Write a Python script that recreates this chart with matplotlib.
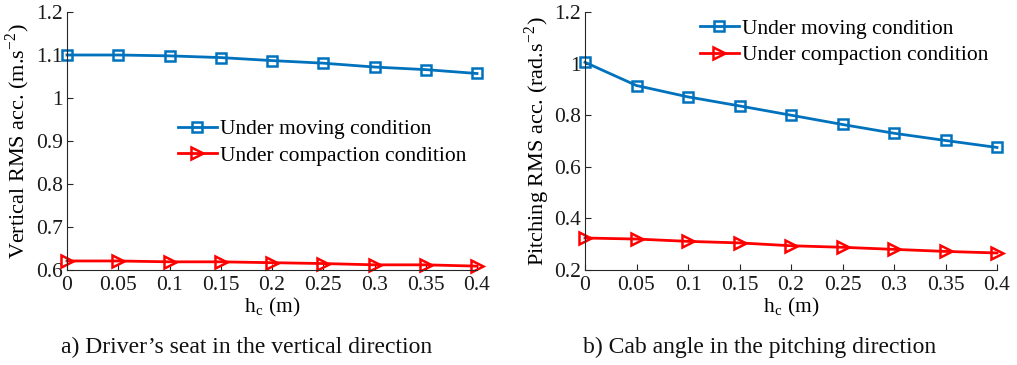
import matplotlib
matplotlib.use("Agg")
import matplotlib.pyplot as plt
import numpy as np

hc = [0, 0.05, 0.1, 0.15, 0.2, 0.25, 0.3, 0.35, 0.4]
xtick_labels = ["0", "0.05", "0.1", "0.15", "0.2", "0.25", "0.3", "0.35", "0.4"]

vert_moving = [1.100, 1.100, 1.098, 1.094, 1.087, 1.081, 1.072, 1.066, 1.057]
vert_compaction = [0.621, 0.621, 0.619, 0.619, 0.617, 0.615, 0.612, 0.612, 0.609]

pitch_moving = [1.005, 0.915, 0.871, 0.836, 0.800, 0.764, 0.730, 0.702, 0.675]
pitch_compaction = [0.324, 0.320, 0.311, 0.305, 0.294, 0.288, 0.280, 0.272, 0.266]

left_yticks = [0.6, 0.7, 0.8, 0.9, 1.0, 1.1, 1.2]
left_ytick_labels = ["0.6", "0.7", "0.8", "0.9", "1", "1.1", "1.2"]
right_yticks = [0.2, 0.4, 0.6, 0.8, 1.0, 1.2]
right_ytick_labels = ["0.2", "0.4", "0.6", "0.8", "1", "1.2"]

plt.rcParams['font.family'] = ['Liberation Serif', 'DejaVu Serif']
plt.rcParams['mathtext.fontset'] = 'stix'

W, H = 1017, 365
fig = plt.figure(figsize=(W / 100, H / 100), dpi=100)

blue = '#0072BD'
red = '#FF0000'
fs = 15.5


def make_ax(x0, x1, y0, y1):
    return fig.add_axes([x0 / W, 1 - y1 / H, (x1 - x0) / W, (y1 - y0) / H])


def style(ax, yticks, ylabels, ylim, ylabel, ylabel_x):
    ax.set_xlim(0, 0.4)
    ax.set_ylim(*ylim)
    ax.set_xticks(hc)
    ax.set_xticklabels(xtick_labels, fontsize=fs)
    ax.set_yticks(yticks)
    ax.set_yticklabels(ylabels, fontsize=fs)
    for s in ['top', 'right']:
        ax.spines[s].set_visible(False)
    for s in ['left', 'bottom']:
        ax.spines[s].set_color('#262626')
        ax.spines[s].set_linewidth(0.8)
    ax.tick_params(direction='in', length=4, width=0.8, colors='#262626',
                   labelcolor='#1a1a1a', pad=2)
    ax.tick_params(axis='x', pad=4)
    ax.tick_params(axis='y', pad=3)
    ax.set_xlabel(r'h$_{\mathregular{c}}$ (m)', fontsize=fs, labelpad=1)
    ax.set_ylabel(ylabel, fontsize=16)
    ax.yaxis.label.set_va('center')
    ax.yaxis.set_label_coords(ylabel_x, 0.5)


def legend(ax, x, y):
    ax.legend(loc='center left', bbox_to_anchor=(x, y), frameon=False,
              fontsize=fs, handlelength=1.8, handletextpad=0.15,
              labelspacing=0.3, borderaxespad=0, borderpad=0)


# Left panel
ax1 = make_ax(67, 477, 12, 270)
ax1.plot(hc, vert_moving, color=blue, lw=2, marker='s', ms=6.5, mfc='none',
         mec=blue, mew=1.8, label='Under moving condition', clip_on=False)
ax1.plot(hc, vert_compaction, color=red, lw=2, marker='>', ms=9, mfc='none',
         mec=red, mew=1.8, label='Under compaction condition', clip_on=False)
style(ax1, left_yticks, left_ytick_labels, (0.6, 1.2),
      r'Vertical RMS acc. (m.s$^{\mathregular{-2}}$)', (18 - 67) / 410)
legend(ax1, (178 - 67) / 410, (270 - 142.5) / 258)

# Right panel
ax2 = make_ax(585, 997, 12, 270)
ax2.plot(hc, pitch_moving, color=blue, lw=2, marker='s', ms=6.5, mfc='none',
         mec=blue, mew=1.8, label='Under moving condition', clip_on=False)
ax2.plot(hc, pitch_compaction, color=red, lw=2, marker='>', ms=9, mfc='none',
         mec=red, mew=1.8, label='Under compaction condition', clip_on=False)
style(ax2, right_yticks, right_ytick_labels, (0.2, 1.2),
      r'Pitching RMS acc. (rad.s$^{\mathregular{-2}}$)', (537 - 585) / 412)
legend(ax2, (700 - 585) / 412, (270 - 42) / 258)

fig.text(247 / W, 1 - 347 / H, "a) Driver\u2019s seat in the vertical direction",
         ha='center', va='center', fontsize=17, color='#111111')
fig.text(760 / W, 1 - 347 / H, "b) Cab angle in the pitching direction",
         ha='center', va='center', fontsize=17, color='#111111')

fig.savefig('out.png', dpi=100)
